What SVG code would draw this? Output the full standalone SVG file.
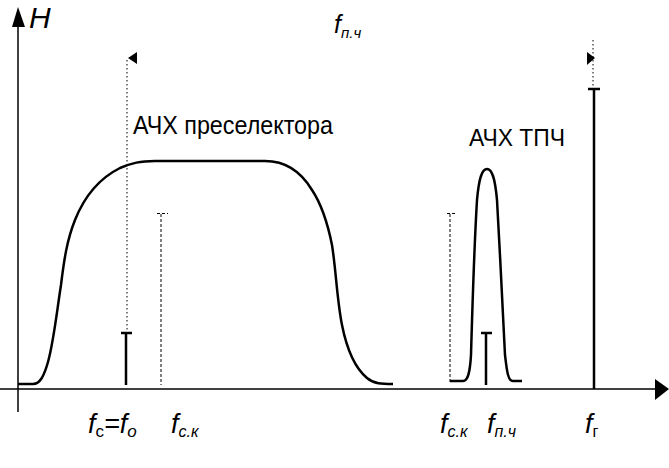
<svg xmlns="http://www.w3.org/2000/svg" width="669" height="468" viewBox="0 0 669 468">
<style>
.ax{stroke:#000;stroke-width:1.5;fill:none}
.crv{stroke:#000;stroke-width:2.5;fill:none;stroke-linejoin:round}
.bar{stroke:#000;stroke-width:2.5;fill:none}
.dot{stroke:#000;stroke-width:1;stroke-dasharray:1.5,2.5;fill:none}
.dash{stroke:#000;stroke-width:1;stroke-dasharray:3,2;fill:none}
.lbl{font-family:"Liberation Sans",Arial,sans-serif;fill:#000}
.it{font-family:"Liberation Sans",Arial,sans-serif;font-style:italic;fill:#000}
</style>
<rect width="669" height="468" fill="#fff"/>
<g id="axes">
<line class="ax" x1="18" y1="412" x2="18" y2="20"/>
<polygon points="18,7 12,27 25,27" fill="#000"/>
<line class="ax" x1="0" y1="389" x2="657" y2="389"/>
<polygon points="669,389 655,379 655,400" fill="#000"/>
<text class="it" x="29" y="28" font-size="30">H</text>
</g>
<g id="preselector-curve">
<path class="crv" d="M18,384 L33,384 C40,384 44,376 48,362 C54,340 57,310 61,285 C64,260 67,240 75,220 C85,195 100,178 120,168 C132,163 140,161 155,161 L265,161 C285,161 300,170 312,190 C322,205 328,225 332,245 C336,270 337,300 342,325 C347,350 355,368 367,378 C374,384 382,384 393,384"/>
</g>
<g id="tpch-curve">
<path class="crv" d="M450,381 L463,381 C468,381 470,372 471,355 C472,320 474,250 477,200 C479,178 482,169 487,169 C492,169 495,178 497,200 C500,250 503,320 505,355 C507,372 508,381 513,381 L522,381"/>
</g>
<g id="signal-fc">
<line class="dot" x1="127" y1="60" x2="127" y2="332"/>
<polygon points="128,58 137,52 137,64" fill="#000"/>
<line class="bar" x1="126" y1="333" x2="126" y2="385"/>
<line class="bar" x1="121" y1="333" x2="132" y2="333"/>
</g>
<g id="signal-fck-left">
<line class="dash" x1="161" y1="214" x2="161" y2="385"/>
<line class="dash" x1="157" y1="213.5" x2="168" y2="213.5"/>
</g>
<g id="signal-fck-right">
<line class="dash" x1="450" y1="214" x2="450" y2="382"/>
<line class="dash" x1="447" y1="213.5" x2="457" y2="213.5"/>
</g>
<g id="signal-fpch">
<line class="bar" x1="486" y1="333" x2="486" y2="385"/>
<line class="bar" x1="481" y1="333" x2="492" y2="333"/>
</g>
<g id="signal-fg">
<line class="dot" x1="593" y1="40" x2="593" y2="86"/>
<polygon points="595,58 587,52 587,65" fill="#000"/>
<line class="bar" x1="594" y1="89" x2="594" y2="389"/>
<line class="bar" x1="588" y1="89" x2="600" y2="89"/>
</g>
<g id="labels">
<text class="lbl" x="133" y="134" font-size="25" textLength="200" lengthAdjust="spacingAndGlyphs">АЧХ преселектора</text>
<text class="lbl" x="469" y="146" font-size="24" textLength="96" lengthAdjust="spacingAndGlyphs">АЧХ ТПЧ</text>
<text class="it" x="334" y="33" font-size="25">f<tspan font-size="15" dy="5">п.ч</tspan></text>
<text class="it" x="88" y="433" font-size="27">f<tspan font-size="17" dy="4" font-style="normal">с</tspan><tspan dy="-4">=f</tspan><tspan font-size="17" dy="4">о</tspan></text>
<text class="it" x="171" y="433" font-size="27">f<tspan font-size="16" dy="4">с.к</tspan></text>
<text class="it" x="440" y="433" font-size="27">f<tspan font-size="16" dy="4">с.к</tspan></text>
<text class="it" x="487" y="433" font-size="27">f<tspan font-size="16" dy="4">п.ч</tspan></text>
<text class="it" x="585" y="433" font-size="27">f<tspan font-size="16" dy="4" font-style="normal">г</tspan></text>
</g>
</svg>
